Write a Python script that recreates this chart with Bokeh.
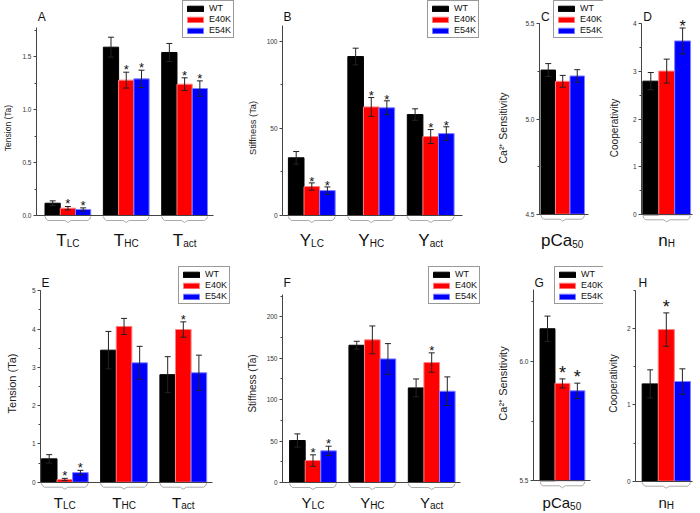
from bokeh.plotting import figure
from bokeh.models import (Range1d, LinearAxis, SingleIntervalTicker, FixedTicker,
                          Legend, LegendItem, Whisker, TeeHead, ColumnDataSource,
                          PrintfTickFormatter)
from bokeh.layouts import row, column
from bokeh.embed import file_html
from bokeh.resources import INLINE
from bokeh.core.properties import value

# ------------------------------------------------------------------ data
SERIES = ["WT", "E40K", "E54K"]

# A: tension (upper row)
A_cats = [("T", "LC"), ("T", "HC"), ("T", "act")]
A_wt = [0.116, 1.588, 1.538]
A_wt_err = [0.022, 0.094, 0.085]
A_e40k = [0.069, 1.277, 1.239]
A_e40k_err = [0.016, 0.075, 0.060]
A_e54k = [0.057, 1.289, 1.198]
A_e54k_err = [0.015, 0.082, 0.072]
A_stars = [[0, 0, 0], [1, 1, 1], [1, 1, 1]]
A_axis = (0.0, 1.77, 0.5)

# B: stiffness (upper row)
B_cats = [("Y", "LC"), ("Y", "HC"), ("Y", "act")]
B_wt = [33.1, 91.2, 57.9]
B_wt_err = [3.6, 4.8, 3.3]
B_e40k = [16.6, 62.3, 45.3]
B_e40k_err = [2.1, 5.4, 4.0]
B_e54k = [14.3, 61.8, 47.0]
B_e54k_err = [2.1, 4.0, 3.9]
B_stars = [[0, 0, 0], [1, 1, 1], [1, 1, 1]]
B_axis = (0.0, 109.0, 50.0)

# C: pCa50 (upper row)
C_cats = [("pCa", "50")]
C_wt = [5.257]
C_wt_err = [0.034]
C_e40k = [5.198]
C_e40k_err = [0.031]
C_e54k = [5.226]
C_e54k_err = [0.033]
C_stars = [[0], [0], [0]]
C_axis = (4.5, 5.5, 0.5)

# D: nH (upper row)
D_cats = [("n", "H")]
D_wt = [2.79]
D_wt_err = [0.18]
D_e40k = [3.00]
D_e40k_err = [0.25]
D_e54k = [3.63]
D_e54k_err = [0.27]
D_stars = [[0], [0], [1]]
D_axis = (0.0, 4.0, 1.0)

# E: tension (lower row)
E_cats = [("T", "LC"), ("T", "HC"), ("T", "act")]
E_wt = [0.61, 3.45, 2.81]
E_wt_err = [0.11, 0.49, 0.47]
E_e40k = [0.07, 4.07, 3.99]
E_e40k_err = [0.03, 0.21, 0.20]
E_e54k = [0.25, 3.12, 2.86]
E_e54k_err = [0.06, 0.43, 0.46]
E_stars = [[0, 0, 0], [1, 0, 1], [1, 0, 0]]
E_axis = (0.0, 5.0, 1.0)

# F: stiffness (lower row)
F_cats = [("Y", "LC"), ("Y", "HC"), ("Y", "act")]
F_wt = [50.7, 165.7, 114.2]
F_wt_err = [8.0, 4.8, 10.8]
F_e40k = [26.5, 172.2, 144.8]
F_e40k_err = [6.9, 16.8, 11.7]
F_e54k = [38.2, 149.2, 110.2]
F_e54k_err = [5.6, 18.5, 17.3]
F_stars = [[0, 0, 0], [1, 0, 1], [1, 0, 0]]
F_axis = (0.0, 227.0, 50.0)

# G: pCa50 (lower row)
G_cats = [("pCa", "50")]
G_wt = [6.137]
G_wt_err = [0.053]
G_e40k = [5.908]
G_e40k_err = [0.019]
G_e54k = [5.877]
G_e54k_err = [0.032]
G_stars = [[0], [1], [1]]
G_axis = (5.5, 6.3, 0.5)

# H: nH (lower row)
H_cats = [("n", "H")]
H_wt = [1.275]
H_wt_err = [0.184]
H_e40k = [1.987]
H_e40k_err = [0.218]
H_e54k = [1.306]
H_e54k_err = [0.166]
H_stars = [[0], [1], [0]]
H_axis = (0.0, 2.5, 1.0)

# ------------------------------------------------------------------ styles
FONT = "Liberation Sans"
FILL = ["#000000", "#ff0000", "#0000ff"]
EDGE = ["#000000", "#ff8080", "#8080ff"]
AX = "#444444"
ERR = "#222222"
BRACE = "#aaaaaa"
DESC = 0.21  # font descent (em): text glyphs sit on their descent line
CW = {"T": .611, "Y": .667, "L": .556, "C": .722, "H": .722, "a": .556, "c": .5,
      "t": .278, "p": .556, "5": .556, "0": .556, "n": .556}


def tw(s, size):
    return sum(CW.get(ch, 0.556) for ch in s) * size


def make_panel(letter, ylabel, cats, vals, errs, stars, axis, g):
    v0, vtop, step = axis
    W = g["fig_right"] - g["fig_left"]
    Hh = g["bottom"] - g["top"]
    bar = g["bar"]

    def ys(px):
        return v0 + (g["y0"] - px) / g["scale"]

    def xs(px):
        return (px - g["c1"]) / bar

    p = figure(width=W, height=Hh,
               x_range=Range1d(xs(g["axis_x"]), xs(g["fig_right"])),
               y_range=Range1d(ys(g["bottom"]), ys(g["top"])),
               x_axis_location=None, y_axis_location=None,
               toolbar_location=None, output_backend="svg",
               min_border_left=g["axis_x"] - g["fig_left"], min_border_right=0,
               min_border_top=0, min_border_bottom=0,
               outline_line_color=None, background_fill_color="white",
               border_fill_color="white")
    p.grid.visible = False

    n = len(cats)
    G = g["spacing"] / bar
    renderers = []
    for s in range(3):
        xpos = [i * G + (s - 1) for i in range(n)]
        src = ColumnDataSource(dict(
            x=xpos, top=vals[s],
            upper=[v + e for v, e in zip(vals[s], errs[s])],
            lower=[v - e for v, e in zip(vals[s], errs[s])]))
        r = p.vbar(x="x", top="top", bottom=v0, width=1.0, source=src,
                   fill_color=FILL[s], line_color=EDGE[s], line_width=1)
        renderers.append(r)
        p.add_layout(Whisker(source=src, base="x", upper="upper", lower="lower",
                             line_color=ERR, line_width=1, level="annotation",
                             upper_head=TeeHead(size=6, line_color=ERR, line_width=1),
                             lower_head=TeeHead(size=6, line_color=ERR, line_width=1)))
        sx = [xpos[i] for i in range(n) if stars[s][i]]
        sy = [vals[s][i] + errs[s][i] for i in range(n) if stars[s][i]]
        if sx:
            ss = g["star_size"]
            p.text(x=sx, y=sy, text=["*"] * len(sx), y_offset=g["star_off"] - DESC * ss,
                   text_align="center", text_baseline="alphabetic",
                   text_font=value(FONT), text_font_size="%dpx" % ss,
                   text_color="#111111", level="overlay")

    # braces + group labels
    bxs, bys = [], []
    ms = g["main_size"]
    for i, (main, sub) in enumerate(cats):
        c = g["c1"] + i * g["spacing"]
        l, r_ = c - 1.5 * bar, c + 1.5 * bar
        y0 = g["y0"]
        pts = [(l, y0 + 1), (l + 1, y0 + 3.5), (l + 3, y0 + 5), (c - 3, y0 + 5),
               (c, y0 + 7), (c + 3, y0 + 5), (r_ - 3, y0 + 5), (r_ - 1, y0 + 3.5), (r_, y0 + 1)]
        bxs.append([xs(px) for px, _ in pts])
        bys.append([ys(py) for _, py in pts])
        mw, sw = tw(main, ms), tw(sub, 10)
        junction = c - (mw + sw) / 2 + mw
        p.text(x=[xs(junction)], y=[ys(g["label_base"])], text=[main],
               y_offset=-DESC * ms,
               text_align="right", text_baseline="alphabetic",
               text_font=value(FONT), text_font_size="%dpx" % ms,
               text_color="#111111", level="overlay")
        p.text(x=[xs(junction)], y=[ys(g["label_base"] + 2)], text=[sub],
               y_offset=-DESC * 10,
               text_align="left", text_baseline="alphabetic",
               text_font=value(FONT), text_font_size="10px",
               text_color="#111111", level="overlay")
    p.multi_line(xs=bxs, ys=bys, line_color=BRACE, line_width=1)

    # axes
    yax = LinearAxis(bounds=(v0, vtop),
                     ticker=SingleIntervalTicker(interval=step, num_minor_ticks=2),
                     axis_label=ylabel, axis_label_text_font=FONT,
                     axis_label_text_font_size=g["ylab_size"],
                     axis_label_text_font_style="normal",
                     axis_label_text_color="#222222",
                     axis_label_standoff=int(g["ylab_standoff"]),
                     major_label_text_font=FONT, major_label_text_font_size="6.5px",
                     major_label_text_color="#333333", major_label_standoff=2,
                     major_tick_out=3, major_tick_in=0, minor_tick_out=2, minor_tick_in=0,
                     axis_line_color=AX, major_tick_line_color=AX, minor_tick_line_color=AX)
    if step < 1:
        yax.formatter = PrintfTickFormatter(format="%.1f")
    p.add_layout(yax, "left")
    xax = LinearAxis(fixed_location=v0, bounds=(xs(g["axis_x"]), xs(g["axis_end"])),
                     ticker=FixedTicker(ticks=[]), major_label_text_font_size="0px",
                     major_tick_line_color=None, minor_tick_line_color=None,
                     axis_line_color=AX)
    p.add_layout(xax, "below")

    # panel letter (kept inside the frame)
    lx_px = max(g["letter_x"], g["axis_x"] + 1)
    p.text(x=[xs(lx_px)], y=[ys(g["letter_base"])], text=[letter], y_offset=-DESC * 12,
           text_font=value(FONT), text_font_size="12px", text_color="#111111",
           text_baseline="alphabetic", level="overlay")

    if g.get("legend"):
        lx, ly = g["legend"]
        leg_h = 35
        items = [LegendItem(label=value(SERIES[s]), renderers=[renderers[s]]) for s in range(3)]
        leg = Legend(items=items, location=(lx - g["axis_x"], g["bottom"] - ly - leg_h),
                     glyph_width=20, glyph_height=7, label_height=7, label_width=10,
                     label_standoff=4, spacing=1, padding=2, margin=0,
                     label_text_font=FONT, label_text_font_size="9px",
                     label_text_color="#111111", label_text_baseline="middle",
                     border_line_color="#333333", border_line_width=1,
                     background_fill_color="white", background_fill_alpha=1)
        p.add_layout(leg)
    return p


TOP = dict(top=0, bottom=255, label_base=243.3, letter_base=19.3, main_size=17)
BOT = dict(top=255, bottom=511, label_base=505.5, letter_base=285.3, main_size=15)

gA = dict(TOP, fig_left=0, fig_right=240, axis_x=32, y0=215, scale=106.0, c1=64.0,
          spacing=59.5, bar=15.55, axis_end=212, legend=(178, 3), ylab_size="8.5px",
          ylab_standoff=6, star_size=13, star_off=0, letter_x=33.3)
gB = dict(TOP, fig_left=240, fig_right=494, axis_x=282, y0=215, scale=1.743, c1=311.3,
          spacing=59.45, bar=15.6, axis_end=462, legend=(427, 3), ylab_size="9.3px",
          ylab_standoff=6, star_size=13, star_off=1, letter_x=280)
gC = dict(TOP, fig_left=494, fig_right=603, axis_x=535, y0=213.7, scale=190.4, c1=559.7,
          spacing=59.4, bar=15.4, axis_end=587, legend=(549, 3), ylab_size="10.5px",
          ylab_standoff=13, star_size=16, star_off=2, letter_x=536.7)
gD = dict(TOP, fig_left=603, fig_right=698, axis_x=641, y0=214.3, scale=47.9, c1=666.2,
          spacing=59.4, bar=15.9, axis_end=692, ylab_size="10px",
          ylab_standoff=10, star_size=16, star_off=2, letter_x=642.7)
gE = dict(BOT, fig_left=0, fig_right=240, axis_x=40, y0=481.7, scale=38.27, c1=64.3,
          spacing=59.25, bar=15.6, axis_end=211.7, legend=(178, 269), ylab_size="11px",
          ylab_standoff=11, star_size=13, star_off=0, letter_x=35)
gF = dict(BOT, fig_left=240, fig_right=494, axis_x=282, y0=482, scale=0.8283, c1=312.5,
          spacing=59.35, bar=15.6, axis_end=460, legend=(428, 269), ylab_size="10px",
          ylab_standoff=6, star_size=13, star_off=0, letter_x=281.7)
gG = dict(BOT, fig_left=494, fig_right=603, axis_x=528, y0=480.3, scale=238.7, c1=559.0,
          spacing=59.4, bar=16.0, axis_end=589, legend=(549, 269), ylab_size="11px",
          ylab_standoff=7, star_size=18, star_off=-2, letter_x=528.3)
gH = dict(BOT, fig_left=603, fig_right=698, axis_x=635, y0=480.7, scale=76.33, c1=665.8,
          spacing=59.4, bar=16.1, axis_end=691.7, ylab_size="10px",
          ylab_standoff=5, star_size=18, star_off=-2, letter_x=638)

pA = make_panel("A", "Tension (Ta)", A_cats, [A_wt, A_e40k, A_e54k],
                [A_wt_err, A_e40k_err, A_e54k_err], A_stars, A_axis, gA)
pB = make_panel("B", "Stiffness (Ta)", B_cats, [B_wt, B_e40k, B_e54k],
                [B_wt_err, B_e40k_err, B_e54k_err], B_stars, B_axis, gB)
pC = make_panel("C", "Ca²⁺ Sensitivity", C_cats, [C_wt, C_e40k, C_e54k],
                [C_wt_err, C_e40k_err, C_e54k_err], C_stars, C_axis, gC)
pD = make_panel("D", "Cooperativity", D_cats, [D_wt, D_e40k, D_e54k],
                [D_wt_err, D_e40k_err, D_e54k_err], D_stars, D_axis, gD)
pE = make_panel("E", "Tension (Ta)", E_cats, [E_wt, E_e40k, E_e54k],
                [E_wt_err, E_e40k_err, E_e54k_err], E_stars, E_axis, gE)
pF = make_panel("F", "Stiffness (Ta)", F_cats, [F_wt, F_e40k, F_e54k],
                [F_wt_err, F_e40k_err, F_e54k_err], F_stars, F_axis, gF)
pG = make_panel("G", "Ca²⁺ Sensitivity", G_cats, [G_wt, G_e40k, G_e54k],
                [G_wt_err, G_e40k_err, G_e54k_err], G_stars, G_axis, gG)
pH = make_panel("H", "Cooperativity", H_cats, [H_wt, H_e40k, H_e54k],
                [H_wt_err, H_e40k_err, H_e54k_err], H_stars, H_axis, gH)

layout = column(row(pA, pB, pC, pD), row(pE, pF, pG, pH))
open("out.html", "w").write(file_html(layout, INLINE))
